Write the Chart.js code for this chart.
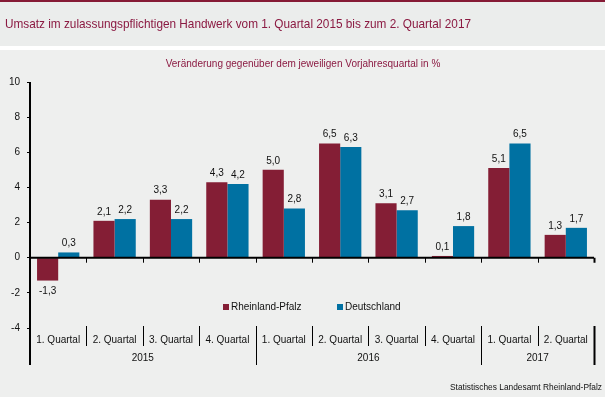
<!DOCTYPE html>
<html>
<head>
<meta charset="utf-8">
<script src="https://cdn.jsdelivr.net/npm/chart.js@4.4.1/dist/chart.umd.min.js"></script>
<style>
  html, body { margin: 0; padding: 0; background: #eeefee; }
  canvas { display: block; }
</style>
</head>
<body>
<canvas id="umsatzChart" width="605" height="397"></canvas>
<script>
// Daten
const quarters = ['1. Quartal', '2. Quartal', '3. Quartal', '4. Quartal', '1. Quartal', '2. Quartal', '3. Quartal', '4. Quartal', '1. Quartal', '2. Quartal'];
const years = ['2015', '2016', '2017'];
const yearSpans = [4, 4, 2];
const rheinlandPfalz = [-1.3, 2.1, 3.3, 4.3, 5.0, 6.5, 3.1, 0.1, 5.1, 1.3];
const deutschland = [0.3, 2.2, 2.2, 4.2, 2.8, 6.3, 2.7, 1.8, 6.5, 1.7];
const yMin = -4, yMax = 10, yStep = 2;

const titleText = 'Umsatz im zulassungspflichtigen Handwerk vom 1. Quartal 2015 bis zum 2. Quartal 2017';
const subtitleText = 'Veränderung gegenüber dem jeweiligen Vorjahresquartal in %';
const sourceText = 'Statistisches Landesamt Rheinland-Pfalz';

const colorRP = '#841e35';
const colorDE = '#0071a2';
const colorTitle = '#8b1a42';
const FONT = 'Arial, "Liberation Sans", sans-serif';

// text etwas schmaler zeichnen, wie im Original
function fitText(ctx, text, x, y, width, align) {
    const w = ctx.measureText(text).width;
    const sx = Math.min(1, width / w);
    ctx.save();
    ctx.textAlign = 'left';
    let startX = x;
    if (align === 'center') startX = x - (w * sx) / 2;
    if (align === 'right') startX = x - w * sx;
    ctx.translate(startX, y);
    ctx.scale(sx, 1);
    ctx.fillText(text, 0, 0);
    ctx.restore();
}

const fmt = v => v.toFixed(1).replace('.', ',');

const decorPlugin = {
    id: 'decor',
    beforeDraw(chart) {
        const ctx = chart.ctx;
        ctx.save();
        ctx.fillStyle = '#eeefee';
        ctx.fillRect(0, 0, chart.width, chart.height);
        // Titelband
        ctx.fillStyle = '#ebedec';
        ctx.fillRect(0, 0, chart.width, 46);
        ctx.fillStyle = '#ffffff';
        ctx.fillRect(0, 46, chart.width, 4);
        ctx.fillStyle = '#861b36';
        ctx.fillRect(0, 0, chart.width, 2);

        ctx.fillStyle = colorTitle;
        ctx.textBaseline = 'middle';
        ctx.font = '13px ' + FONT;
        fitText(ctx, titleText, 5, 24, 466, 'left');
        ctx.font = '10px ' + FONT;
        fitText(ctx, subtitleText, 303, 64, 281, 'center');
        ctx.restore();
    },
    afterDatasetsDraw(chart) {
        const ctx = chart.ctx;
        const x = chart.scales.x;
        const y = chart.scales.y;
        const area = chart.chartArea;
        const y0 = y.getPixelForValue(0);
        const n = quarters.length;
        const step = (area.right - area.left) / n;
        const sepTop = y.getPixelForValue(yMin) - 2;

        ctx.save();
        ctx.strokeStyle = '#000';

        // Y-Achse
        ctx.lineWidth = 2;
        ctx.beginPath();
        ctx.moveTo(area.left, area.top);
        ctx.lineTo(area.left, 365);
        ctx.stroke();

        // Nulllinie
        ctx.beginPath();
        ctx.moveTo(area.left, y0);
        ctx.lineTo(area.right, y0);
        ctx.stroke();

        // Striche an der Nulllinie und Trenner unten
        for (let i = 1; i <= n; i++) {
            const bx = Math.round(area.left + i * step) + 0.5;
            const isEnd = i === n;
            const isYear = i === 4 || i === 8;
            ctx.lineWidth = isEnd ? 2 : 1;
            ctx.beginPath();
            ctx.moveTo(bx, y0);
            ctx.lineTo(bx, y0 + 5);
            ctx.moveTo(bx, sepTop);
            ctx.lineTo(bx, (isEnd || isYear) ? 365 : 346);
            ctx.stroke();
        }

        // Quartalsbeschriftung
        ctx.fillStyle = '#111';
        ctx.font = '10px ' + FONT;
        ctx.textAlign = 'center';
        ctx.textBaseline = 'middle';
        quarters.forEach((q, i) => {
            ctx.fillText(q, x.getPixelForValue(i), 340);
        });
        let start = 0;
        years.forEach((yr, j) => {
            const cx = area.left + (start + yearSpans[j] / 2) * step;
            ctx.fillText(yr, cx, 358);
            start += yearSpans[j];
        });

        // Werte an den Balken
        chart.data.datasets.forEach((ds, di) => {
            const meta = chart.getDatasetMeta(di);
            meta.data.forEach((bar, i) => {
                const v = ds.data[i];
                const ty = v >= 0 ? bar.y - 9 : bar.y + 11;
                ctx.fillText(fmt(v), bar.x, ty);
            });
        });

        // Legende
        const legendItems = [
            { label: 'Rheinland-Pfalz', color: colorRP, x: 223 },
            { label: 'Deutschland', color: colorDE, x: 337 }
        ];
        ctx.textAlign = 'left';
        legendItems.forEach(item => {
            ctx.fillStyle = item.color;
            ctx.fillRect(item.x, 304, 6, 6);
            ctx.fillStyle = '#111';
            ctx.fillText(item.label, item.x + 8, 307.5);
        });

        // Quelle
        ctx.font = '9px ' + FONT;
        fitText(ctx, sourceText, 602, 388, 152, 'right');
        ctx.restore();
    }
};

new Chart(document.getElementById('umsatzChart'), {
    type: 'bar',
    data: {
        labels: quarters,
        datasets: [
            {
                label: 'Rheinland-Pfalz',
                data: rheinlandPfalz,
                backgroundColor: colorRP,
                categoryPercentage: 0.75,
                barPercentage: 1
            },
            {
                label: 'Deutschland',
                data: deutschland,
                backgroundColor: colorDE,
                categoryPercentage: 0.75,
                barPercentage: 1
            }
        ]
    },
    options: {
        responsive: false,
        animation: false,
        devicePixelRatio: 1,
        layout: { padding: { top: 82, bottom: 69, left: 0, right: 11 } },
        plugins: {
            legend: { display: false },
            tooltip: { enabled: false }
        },
        scales: {
            x: { display: false },
            y: {
                min: yMin,
                max: yMax,
                afterFit(scale) { scale.width = 30; },
                border: { display: false },
                grid: { drawOnChartArea: false, drawTicks: true, tickLength: 3, color: '#000' },
                ticks: {
                    stepSize: yStep,
                    padding: 7,
                    color: '#111',
                    font: { family: FONT, size: 10 }
                }
            }
        }
    },
    plugins: [decorPlugin]
});
</script>
</body>
</html>
